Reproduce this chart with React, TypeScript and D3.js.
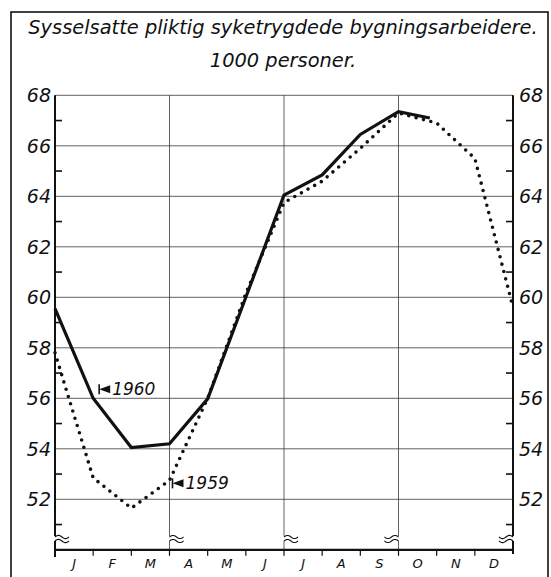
import React from "react";
import * as d3 from "d3";

const months = ["J", "F", "M", "A", "M", "J", "J", "A", "S", "O", "N", "D"];
const yTicks = [52, 54, 56, 58, 60, 62, 64, 66, 68];
const yMinor = [51, 53, 55, 57, 59, 61, 63, 65, 67];
// month-boundary positions (0 = start of Jan)
const pos1960 = [0, 1, 2, 3, 4, 5, 6, 7, 8, 9, 9.82];
const val1960 = [59.55, 56.0, 54.05, 54.2, 55.98, 60.0, 64.05, 64.85, 66.45, 67.35, 67.1];
const pos1959 = [0, 1, 2, 3, 4, 5, 6, 7, 8, 9, 10, 11, 12];
const val1959 = [57.8, 52.85, 51.65, 52.75, 56.0, 60.15, 63.75, 64.6, 65.9, 67.3, 66.9, 65.5, 59.6];
const title1 = "Sysselsatte pliktig syketrygdede bygningsarbeidere.";
const title2 = "1000 personer.";
const label1960 = "1960";
const label1959 = "1959";

const W = 551;
const H = 577;
const FONT = "'DejaVu Sans', sans-serif";

function wave(x0: number, y0: number, dir: number) {
  const pts: [number, number][] = [];
  for (let i = 0; i <= 14; i++) {
    const t = i / 14;
    pts.push([x0 + dir * t * 14, y0 - 1.6 * Math.sin(t * Math.PI * 2)]);
  }
  return d3.line()(pts) as string;
}

export default function App() {
  const x = d3.scaleLinear().domain([0, 12]).range([55, 513]);
  const y = d3.scaleLinear().domain([50, 68]).range([549.8, 95.3]);
  const line = d3.line<[number, number]>().x((d) => x(d[0])).y((d) => y(d[1]));
  const d1960 = line(pos1960.map((p, i) => [p, val1960[i]]) as [number, number][]) as string;
  const d1959 = line(pos1959.map((p, i) => [p, val1959[i]]) as [number, number][]) as string;
  const yBottom = y(50);
  const breakY = 536;
  const gridColor = "#3a3a3a";

  const a1960x = x(1) + 9;
  const a1960y = y(val1960[1]) - 9;
  const a1959x = x(3) + 6;
  const a1959y = y(val1959[3]) + 3;

  const marker = (mx: number, my: number) => (
    <g>
      <path d={`M${mx - 3},${my} L${mx + 8},${my - 4} L${mx + 8},${my + 4} Z`} fill="#111" />
      <line x1={mx - 3} x2={mx - 3} y1={my - 5} y2={my + 5} stroke="#111" strokeWidth={1.6} />
    </g>
  );

  return (
    <svg
      width={W}
      height={H}
      style={{ position: "absolute", left: 0, top: 0, background: "#fff" }}
      fontFamily={FONT}
    >
      <rect x={11} y={12} width={537} height={580} fill="none" stroke="#111" strokeWidth={1.6} />

      <text x={283} y={34} textAnchor="middle" fontSize={19.4} fontStyle="italic" fill="#111">
        {title1}
      </text>
      <text x={283} y={67} textAnchor="middle" fontSize={19.4} fontStyle="italic" fill="#111">
        {title2}
      </text>

      {yTicks.map((v) => (
        <line key={"g" + v} x1={x(0)} x2={x(12)} y1={y(v)} y2={y(v)} stroke={gridColor} strokeWidth={0.8} />
      ))}

      {[3, 6, 9].map((m) => (
        <g key={"v" + m}>
          <line x1={x(m)} x2={x(m)} y1={y(68)} y2={breakY} stroke={gridColor} strokeWidth={0.8} />
          <line x1={x(m)} x2={x(m)} y1={breakY + 5} y2={yBottom} stroke={gridColor} strokeWidth={0.8} />
          <path d={wave(x(m), breakY + 1, m === 9 ? -1 : 1)} fill="none" stroke="#111" strokeWidth={1.1} />
          <path d={wave(x(m), breakY + 5, m === 9 ? -1 : 1)} fill="none" stroke="#111" strokeWidth={1.1} />
        </g>
      ))}

      <line x1={x(0)} x2={x(0)} y1={y(68)} y2={breakY} stroke="#111" strokeWidth={2} />
      <line x1={x(0)} x2={x(0)} y1={breakY + 5} y2={557} stroke="#111" strokeWidth={2} />
      <path d={wave(x(0), breakY + 1, 1)} fill="none" stroke="#111" strokeWidth={1.2} />
      <path d={wave(x(0), breakY + 5, 1)} fill="none" stroke="#111" strokeWidth={1.2} />
      <line x1={x(12)} x2={x(12)} y1={y(68)} y2={breakY} stroke="#111" strokeWidth={2} />
      <line x1={x(12)} x2={x(12)} y1={breakY + 5} y2={554} stroke="#111" strokeWidth={2} />
      <path d={wave(x(12), breakY + 1, -1)} fill="none" stroke="#111" strokeWidth={1.2} />
      <path d={wave(x(12), breakY + 5, -1)} fill="none" stroke="#111" strokeWidth={1.2} />

      {yMinor.map((v) => (
        <g key={"m" + v}>
          <line x1={x(0)} x2={x(0) + 7} y1={y(v)} y2={y(v)} stroke="#111" strokeWidth={1.6} />
          <line x1={x(12)} x2={x(12) - 7} y1={y(v)} y2={y(v)} stroke="#111" strokeWidth={1.6} />
        </g>
      ))}

      {yTicks.map((v) => (
        <g key={"l" + v}>
          <text x={x(0) - 4} y={y(v) + 7} textAnchor="end" fontSize={19} fontStyle="italic" fill="#111">
            {v}
          </text>
          <text x={x(12) + 6} y={y(v) + 7} textAnchor="start" fontSize={19} fontStyle="italic" fill="#111">
            {v}
          </text>
        </g>
      ))}

      <line x1={x(0)} x2={x(12)} y1={yBottom} y2={yBottom} stroke="#111" strokeWidth={2.2} />
      {d3.range(1, 12).map((m) => (
        <line key={"t" + m} x1={x(m)} x2={x(m)} y1={yBottom} y2={yBottom + 6} stroke="#111" strokeWidth={1.2} />
      ))}
      {months.map((mo, i) => (
        <text key={"mo" + i} x={x(i + 0.5)} y={568} textAnchor="middle" fontSize={13} fontStyle="italic" fill="#111">
          {mo}
        </text>
      ))}

      <path d={d1959} fill="none" stroke="#111" strokeWidth={3.6} strokeLinecap="round" strokeDasharray="0 7.6" />
      <path d={d1960} fill="none" stroke="#111" strokeWidth={3.2} strokeLinejoin="miter" />

      {marker(a1960x, a1960y)}
      <text x={a1960x + 10} y={a1960y + 6} fontSize={17} fontStyle="italic" fill="#111">
        {label1960}
      </text>
      {marker(a1959x, a1959y)}
      <text x={a1959x + 10} y={a1959y + 6} fontSize={17} fontStyle="italic" fill="#111">
        {label1959}
      </text>
    </svg>
  );
}
